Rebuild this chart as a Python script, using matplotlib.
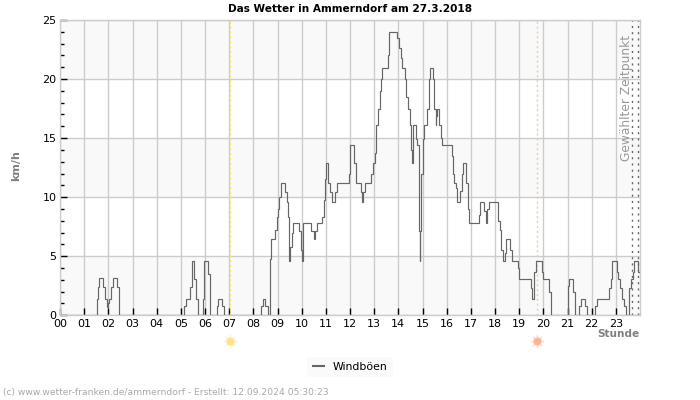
import matplotlib
matplotlib.use("Agg")
import matplotlib.pyplot as plt
from matplotlib.ticker import MultipleLocator
from matplotlib.transforms import blended_transform_factory

hours = [0, 1.54, 1.59, 1.63, 1.79, 1.86, 1.93, 2.0, 2.04, 2.12, 2.21, 2.37, 2.44,
         5.14, 5.21, 5.38, 5.46, 5.56, 5.63, 5.72, 5.82, 5.90, 5.97, 6.14, 6.21,
         6.48, 6.55, 6.72, 6.80, 8.33, 8.39, 8.50, 8.59, 8.67, 8.71, 8.75, 8.91, 8.97,
         9.02, 9.08, 9.14, 9.32, 9.39, 9.45, 9.49, 9.53, 9.59, 9.66, 9.90, 9.96, 10.0,
         10.05, 10.07, 10.40, 10.49, 10.54, 10.62, 10.86, 10.92, 10.97, 11.01, 11.11,
         11.17, 11.26, 11.37, 11.45, 11.94, 12.0, 12.18, 12.25, 12.44, 12.5, 12.55, 12.6,
         12.87, 12.94, 13.02, 13.06, 13.17, 13.23, 13.27, 13.34, 13.56, 13.63, 13.96,
         14.02, 14.13, 14.17, 14.26, 14.32, 14.39, 14.48, 14.51, 14.55, 14.59, 14.62,
         14.72, 14.79, 14.84, 14.87, 14.89, 14.90, 14.94, 15.0, 15.05, 15.2, 15.26, 15.3,
         15.45, 15.49, 15.55, 15.57, 15.61, 15.7, 15.75, 15.79, 16.21, 16.25, 16.29,
         16.37, 16.44, 16.57, 16.62, 16.66, 16.81, 16.87, 16.91, 17.32, 17.37, 17.56,
         17.64, 17.68, 17.74, 18.14, 18.21, 18.26, 18.32, 18.40, 18.47, 18.63, 18.72,
         18.97, 19.01, 19.48, 19.54, 19.62, 19.68, 19.93, 19.99, 20.25, 20.32, 21.0,
         21.07, 21.24, 21.32, 21.49, 21.57, 21.74, 21.82, 22.13, 22.21, 22.71, 22.78,
         22.86, 23.03, 23.11, 23.19, 23.27, 23.35, 23.42, 23.56, 23.63, 23.69, 23.76,
         23.93, 24.0]
gusts = [0, 1.4, 2.4, 3.2, 2.4, 1.4, 0.7, 1.0, 1.4, 2.4, 3.2, 2.4, 0,
         0.8, 1.4, 2.4, 4.6, 3.1, 1.4, 0, 0, 1.4, 4.6, 3.5, 0,
         0.8, 1.4, 0.8, 0, 0.8, 1.4, 0.8, 0, 1.6, 4.8, 6.5, 7.2, 8.3,
         9.0, 10.0, 11.2, 10.4, 9.6, 8.3, 4.6, 5.8, 7.0, 7.8, 7.1, 5.5, 4.6,
         7.1, 7.8, 7.1, 6.5, 7.1, 7.8, 8.3, 9.8, 11.5, 12.9, 11.2,
         10.4, 9.6, 10.4, 11.2, 12.0, 14.4, 12.9, 11.2, 10.4, 9.6, 10.4, 11.2,
         12.0, 12.9, 13.7, 16.1, 17.5, 19.0, 20.0, 20.9, 22.0, 24.0, 23.5,
         22.6, 21.8, 20.9, 20.0, 18.5, 17.5, 16.1, 14.0, 12.9, 14.4, 16.1,
         14.9, 14.4, 12.0, 7.1, 4.6, 7.1, 12.0, 14.9, 16.1, 17.5, 20.0, 20.9,
         20.0, 17.5, 16.1, 16.9, 17.5, 16.1, 15.0, 14.4, 13.5, 12.0, 11.2,
         10.8, 9.6, 10.5, 12.0, 12.9, 11.2, 9.0, 7.8, 8.5, 9.6, 8.8,
         7.8, 9.0, 9.6, 8.0, 7.2, 5.5, 4.6, 5.3, 6.5, 5.5, 4.6,
         4.0, 3.1, 2.3, 1.4, 3.7, 4.6, 3.7, 3.1, 2.0, 0, 2.5,
         3.1, 2.0, 0, 0.8, 1.4, 0.8, 0, 0.8, 1.4, 2.3, 3.1,
         4.6, 3.7, 3.1, 2.3, 1.4, 0.8, 0, 2.3, 3.1, 3.7, 4.6,
         3.7, 3.7]
hour_labels = [f"{h:02d}" for h in range(24)]
sunrise = 7.05
sunset = 19.75
selected = [23.68, 23.93]

GRID = "#cccccc"
fig = plt.figure(figsize=(7, 4), dpi=100)
ax = fig.add_axes([60 / 700, 1 - 315.3 / 400, 580 / 700, 295.3 / 400])
ax.set_xlim(0, 24)
ax.set_ylim(0, 25)
for low in (0, 10, 20):
    ax.axhspan(low, low + 5, color="#f9f9f9", lw=0, zorder=0)
ax.yaxis.set_major_locator(MultipleLocator(5))
ax.yaxis.set_minor_locator(MultipleLocator(1))
ax.set_xticks(range(24))
ax.set_xticklabels(hour_labels)
ax.grid(True, which="major", color=GRID, lw=1, zorder=1)
ax.set_axisbelow(True)
ax.tick_params(axis="both", which="major", direction="in", length=5, width=1,
               color="black", labelsize=8, labelcolor="black", pad=2.5)
ax.tick_params(axis="y", which="minor", direction="in", length=3, width=1, color="black")
for s in ax.spines.values():
    s.set_color(GRID)
    s.set_linewidth(1)

ax.axvline(sunrise, color="#ffe75a", lw=1, ls=(0, (1.5, 2)), zorder=2)
ax.axvline(sunset, color="#f8c79a", lw=1, ls=(0, (1.5, 2)), zorder=2)
for h in selected:
    ax.axvline(h, color="#666666", lw=1, ls=(0, (1.5, 3)), zorder=2)

line, = ax.plot(hours, gusts, drawstyle="steps-post", color="#666666", lw=0.85, zorder=3,
                label="Windböen", solid_joinstyle="miter")

tr_text = blended_transform_factory(ax.transData, ax.transAxes)
ax.text(23.44, 1 - 15 / 295.3, "Gewählter Zeitpunkt", rotation=90, ha="center", va="top",
        transform=tr_text, fontsize=8.8, color="#999999", zorder=4)

tr = blended_transform_factory(ax.transData, ax.transAxes)
y_sun = -(341 - 315.3) / 295.3
for h, core, halo in ((sunrise, "#ffe08a", "#fff0c4"), (sunset, "#ffb199", "#ffdccf")):
    ax.plot([h], [y_sun], transform=tr, marker=(8, 1, 0), ms=11, color=halo, mew=0, clip_on=False)
    ax.plot([h], [y_sun], transform=tr, marker="o", ms=5.5, color=core, mew=0, clip_on=False)

fig.text(350 / 700, 1 - 9 / 400, "Das Wetter in Ammerndorf am 27.3.2018", ha="center", va="center",
         fontsize=7.6, fontweight="bold", color="black")
fig.text(16 / 700, 1 - 166 / 400, "km/h", rotation=90, ha="center", va="center",
         fontsize=8, fontweight="bold", color="#808080")
fig.text(640 / 700, 1 - 334 / 400, "Stunde", ha="right", va="center",
         fontsize=7.6, fontweight="bold", color="#808080")
fig.text(3 / 700, 1 - 393 / 400, "(c) www.wetter-franken.de/ammerndorf - Erstellt: 12.09.2024 05:30:23",
         ha="left", va="center", fontsize=6.6, color="#a8a8a8")
leg = fig.legend(handles=[line], loc="center", bbox_to_anchor=(350 / 700, 1 - 367 / 400), frameon=True,
                 fontsize=7.8, handlelength=1.0, handletextpad=0.8, borderpad=0.5, borderaxespad=0)
leg.get_frame().set_facecolor("#f9f9f9")
leg.get_frame().set_edgecolor("none")
leg.get_frame().set_boxstyle("square", pad=0)
leg.get_lines()[0].set_linewidth(1.5)
fig.savefig("out.png", dpi=100)
